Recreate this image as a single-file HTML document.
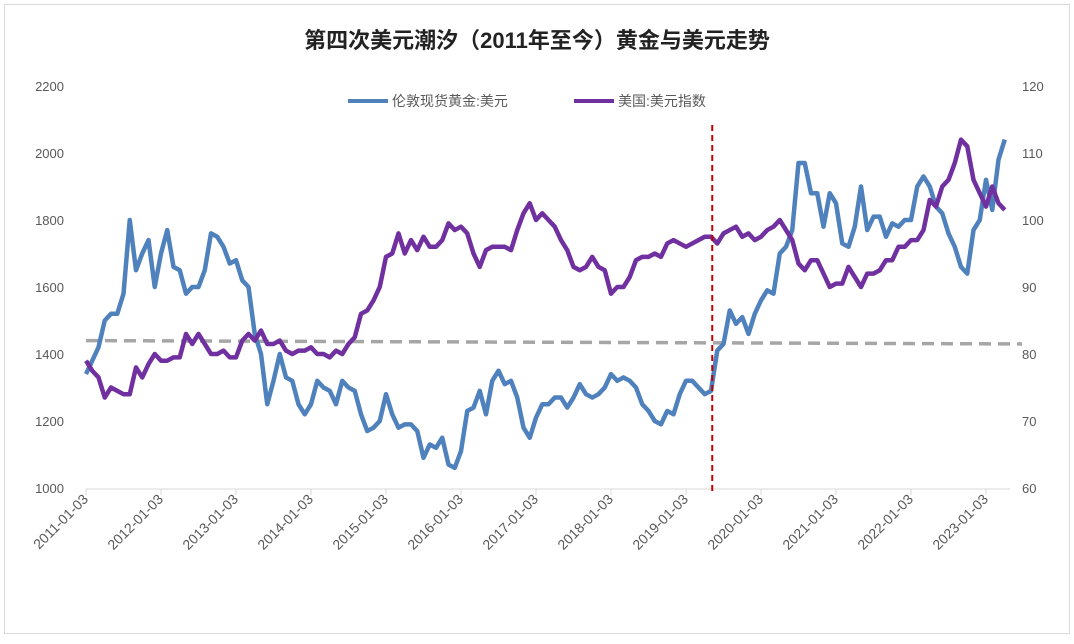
<!DOCTYPE html>
<html><head><meta charset="utf-8"><style>
body{margin:0;background:#fff;width:1074px;height:639px;overflow:hidden;font-family:"Liberation Sans","Noto Sans CJK SC",sans-serif}
</style></head><body>
<svg width="1074" height="639" xmlns="http://www.w3.org/2000/svg">
<rect x="4.5" y="4.5" width="1065" height="629" fill="#fff" stroke="#d9d9d9"/>
<text x="537" y="48" text-anchor="middle" font-size="22" font-weight="bold" fill="#222" font-family="Liberation Sans,Noto Sans CJK SC,sans-serif">第四次美元潮汐（2011年至今）黄金与美元走势</text>
<g id="leg" font-size="14" fill="#595959">
<line x1="348" y1="101" x2="388" y2="101" stroke="#4f81bd" stroke-width="4"/>
<text x="392" y="106">伦敦现货黄金:美元</text>
<line x1="574" y1="101" x2="614" y2="101" stroke="#7030a0" stroke-width="4"/>
<text x="618" y="106">美国:美元指数</text>
</g>
<g id="axes"></g>
<g id="marks"></g>
</svg>
<script>
const years=['2011-01-03','2012-01-03','2013-01-03','2014-01-03','2015-01-03','2016-01-03','2017-01-03','2018-01-03','2019-01-03','2020-01-03','2021-01-03','2022-01-03','2023-01-03'];
const leftTicks=[1000,1200,1400,1600,1800,2000,2200];
const rightTicks=[60,70,80,90,100,110,120];
const gold=[1340,1380,1420,1500,1520,1520,1580,1800,1650,1700,1740,1600,
1700,1770,1660,1650,1580,1600,1600,1650,1760,1750,1720,1670,
1680,1620,1600,1460,1400,1250,1320,1400,1330,1320,1250,1220,
1250,1320,1300,1290,1250,1320,1300,1290,1220,1170,1180,1200,
1280,1220,1180,1190,1190,1170,1090,1130,1120,1150,1070,1060,
1110,1230,1240,1290,1220,1320,1350,1310,1320,1270,1180,1150,
1210,1250,1250,1270,1270,1240,1270,1310,1280,1270,1280,1300,
1340,1320,1330,1320,1300,1250,1230,1200,1190,1230,1220,1280,
1320,1320,1300,1280,1290,1410,1430,1530,1490,1510,1460,1520,
1560,1590,1580,1700,1720,1770,1970,1970,1880,1880,1780,1880,
1850,1730,1720,1780,1900,1770,1810,1810,1750,1790,1780,1800,
1800,1900,1930,1900,1840,1820,1760,1720,1660,1640,1770,1800,
1920,1830,1980,2040];
const dxy=[79,77.5,76.5,73.5,75,74.5,74,74,78,76.5,78.5,80,
79,79,79.5,79.5,83,81.5,83,81.5,80,80,80.5,79.5,
79.5,82,83,82,83.5,81.5,81.5,82,80.5,80,80.5,80.5,
81,80,80,79.5,80.5,80,81.5,82.5,86,86.5,88,90,
94.5,95,98,95,97,95.5,97.5,96,96,97,99.5,98.5,
99,98,95,93,95.5,96,96,96,95.5,98.5,101,102.5,
100,101,100,99,97,95.5,93,92.5,93,94.5,93,92.5,
89,90,90,91.5,94,94.5,94.5,95,94.5,96.5,97,96.5,
96,96.5,97,97.5,97.5,96.5,98,98.5,99,97.5,98,97,
97.5,98.5,99,100,98.5,97,93.5,92.5,94,94,92,90,
90.5,90.5,93,91.5,90,92,92,92.5,94,94,96,96,
97,97,98.5,103,102,105,106,108.5,112,111,106,104,
102,105,102.5,101.5];
const refGold=[1440,1430];
const markerMonth=[100.2];
const NS='http://www.w3.org/2000/svg';
const X=m=>86+m*75/12;
const YL=v=>86+(2200-v)/1200*402;
const YR=v=>86+(120-v)/60*402;
const ax=document.getElementById('axes'),mk=document.getElementById('marks');
function el(t,a,p){const e=document.createElementNS(NS,t);for(const k in a)e.setAttribute(k,a[k]);p.appendChild(e);return e;}
const base=el('line',{x1:86,y1:489,x2:1010,y2:489,stroke:'#d9d9d9'},ax);


years.forEach((y,i)=>{const x=X(i*12);
const tk=el('line',{x1:x,y1:489,x2:x,y2:495,stroke:'#d9d9d9'},ax);


const t=el('text',{x:x+3,y:500,'text-anchor':'end','font-size':14,fill:'#595959',transform:`rotate(-45 ${x+3} 500)`},ax);t.textContent=y;

});
leftTicks.forEach(v=>{const t=el('text',{x:64,y:YL(v)+5,'text-anchor':'end','font-size':13,fill:'#595959'},ax);t.textContent=v;

});
rightTicks.forEach(v=>{const t=el('text',{x:1022,y:YR(v)+5,'font-size':13,fill:'#595959'},ax);t.textContent=v;

});
const rl=el('line',{x1:86,y1:YL(refGold[0]),x2:1022,y2:YL(refGold[1]),stroke:'#a6a6a6','stroke-width':3.5,'stroke-dasharray':'12,7'},mk);


const g=el('polyline',{points:gold.map((v,i)=>X(i)+','+YL(v)).join(' '),fill:'none',stroke:'#4f81bd','stroke-width':4.5,'stroke-linejoin':'round'},mk);


const d=el('polyline',{points:dxy.map((v,i)=>X(i)+','+YR(v)).join(' '),fill:'none',stroke:'#7030a0','stroke-width':4.5,'stroke-linejoin':'round'},mk);


const vx=X(markerMonth[0]);
const vl=el('line',{x1:vx,y1:125,x2:vx,y2:491,stroke:'#c00000','stroke-width':2,'stroke-dasharray':'6,4'},mk);


</script>
</body></html>
